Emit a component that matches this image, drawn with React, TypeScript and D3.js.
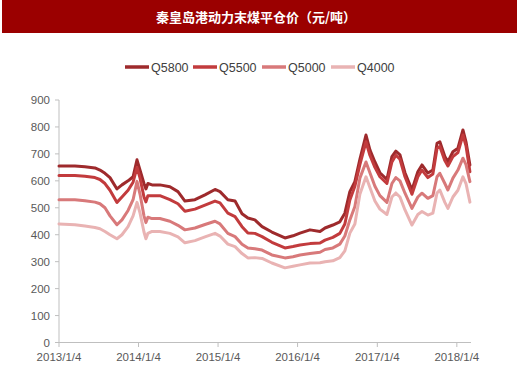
import React from "react";
import * as d3 from "d3";

const dates = [
  "2013-01-04","2013-03-18","2013-05-03","2013-06-18","2013-07-11","2013-08-03","2013-08-26","2013-09-27","2013-10-20","2013-11-17",
  "2013-12-10","2013-12-28","2014-01-11","2014-01-29","2014-02-07","2014-02-16","2014-03-07","2014-04-12","2014-05-28","2014-07-04",
  "2014-08-05","2014-09-20","2014-11-05","2014-12-21","2015-01-13","2015-02-18","2015-03-23","2015-04-24","2015-05-21","2015-06-22",
  "2015-07-25","2015-09-08","2015-11-07","2015-12-14","2016-01-15","2016-03-01","2016-04-16","2016-05-09","2016-06-14","2016-07-16",
  "2016-08-08","2016-08-31","2016-09-23","2016-10-16","2016-11-13","2016-12-01","2016-12-24","2017-01-16","2017-02-17","2017-03-12",
  "2017-03-30","2017-04-18","2017-05-11","2017-06-12","2017-07-09","2017-07-28","2017-08-24","2017-09-16","2017-10-05","2017-10-18",
  "2017-11-10","2017-11-24","2017-12-17","2018-01-09","2018-02-01","2018-02-15","2018-03-05"
];

const q5800 = [
  655,655,652,648,640,628,612,570,585,600,
  615,678,640,590,570,590,585,585,578,560,
  525,530,548,568,560,530,525,478,462,455,
  430,410,388,396,406,418,412,425,436,448,
  480,560,597,680,770,715,670,630,605,690,
  710,696,630,566,634,659,629,640,739,745,
  690,671,708,721,789,745,659
];

const q5500 = [
  620,620,617,612,605,590,565,520,540,565,
  595,650,610,540,522,545,545,545,530,515,
  487,495,510,525,518,480,467,430,406,405,
  393,372,351,356,362,367,369,380,390,405,
  440,529,580,660,745,695,650,615,590,670,
  695,680,615,550,615,640,612,625,720,727,
  675,655,690,705,770,730,634
];

const q5000 = [
  530,530,526,521,515,500,470,437,455,490,
  530,598,550,470,445,465,460,460,450,435,
  418,425,438,450,440,405,393,365,351,348,
  343,325,314,318,325,330,335,345,351,365,
  395,455,505,610,670,630,580,545,520,590,
  612,600,554,498,540,554,535,545,615,628,
  590,566,610,640,684,660,597
];

const q4000 = [
  440,437,432,427,422,412,400,385,400,430,
  470,520,480,410,385,405,412,412,405,392,
  370,378,392,405,395,365,356,330,314,315,
  312,295,277,283,288,295,296,300,303,315,
  340,406,440,550,615,575,525,495,475,540,
  555,540,492,436,475,486,473,480,555,566,
  520,498,540,565,615,590,521
];

const seriesNames = ["Q5800", "Q5500", "Q5000", "Q4000"];
const seriesValues = [q5800, q5500, q5000, q4000];
const seriesColors = ["#9e2a2c", "#c23b3d", "#d8797a", "#e9b3b3"];

const yTicks = [0, 100, 200, 300, 400, 500, 600, 700, 800, 900];
const xTickLabels = ["2013/1/4", "2014/1/4", "2015/1/4", "2016/1/4", "2017/1/4", "2018/1/4"];

const title = "秦皇岛港动力末煤平仓价（元/吨）";

const parse = d3.timeParse("%Y-%m-%d");
const parseTick = d3.timeParse("%Y/%m/%d");

export default function App() {
  const W = 520, H = 376;
  const x = d3.scaleTime()
    .domain([parse("2013-01-04")!, parse("2018-03-10")!])
    .range([59, 471]);
  const y = d3.scaleLinear().domain([0, 900]).range([342.5, 100]);
  const line = d3.line<[Date, number]>().x(d => x(d[0])).y(d => y(d[1]));
  const parsedDates = dates.map(d => parse(d)!);
  const narrow = "'Liberation Sans Narrow', 'Arial Narrow', 'Liberation Sans', Arial, sans-serif";
  const legendX = [125, 193, 262, 331];

  return (
    <svg width={W} height={H} style={{ position: "absolute", left: 0, top: 0, background: "#fff" }}>
      <rect x={2} y={0} width={515} height={33} fill="#9b0000" />
      <text x={256} y={21.5} textAnchor="middle" fill="#fff" fontSize={13} fontWeight="bold"
        fontFamily="'Noto Sans CJK SC', sans-serif">{title}</text>

      {seriesNames.map((n, i) => (
        <g key={n}>
          <line x1={legendX[i]} x2={legendX[i] + 24} y1={67} y2={67} stroke={seriesColors[i]} strokeWidth={3.5} />
          <text x={legendX[i] + 26} y={71.5} fontSize={12.5} fill="#404040" fontFamily={narrow}>{n}</text>
        </g>
      ))}

      {/* y axis */}
      <line x1={59} x2={59} y1={100} y2={342.5} stroke="#bfbfbf" />
      {yTicks.map(t => (
        <g key={t}>
          <line x1={55} x2={59} y1={y(t)} y2={y(t)} stroke="#bfbfbf" />
          <text x={50} y={y(t) + 4} textAnchor="end" fontSize={11.5} fill="#595959" fontFamily={narrow}>{t}</text>
        </g>
      ))}

      {/* x axis */}
      <line x1={59} x2={471} y1={342.5} y2={342.5} stroke="#bfbfbf" />
      {xTickLabels.map(l => {
        const px = x(parseTick(l)!);
        return (
          <g key={l}>
            <line x1={px} x2={px} y1={342.5} y2={347} stroke="#bfbfbf" />
            <text x={px} y={361} textAnchor="middle" fontSize={11.5} fill="#595959" fontFamily={narrow}>{l}</text>
          </g>
        );
      })}

      {seriesValues.map((vals, i) => (
        <path key={seriesNames[i]}
          d={line(parsedDates.map((d, j) => [d, vals[j]] as [Date, number])) || ""}
          fill="none" stroke={seriesColors[i]} strokeWidth={3} strokeLinejoin="round" strokeLinecap="round" />
      ))}
    </svg>
  );
}
